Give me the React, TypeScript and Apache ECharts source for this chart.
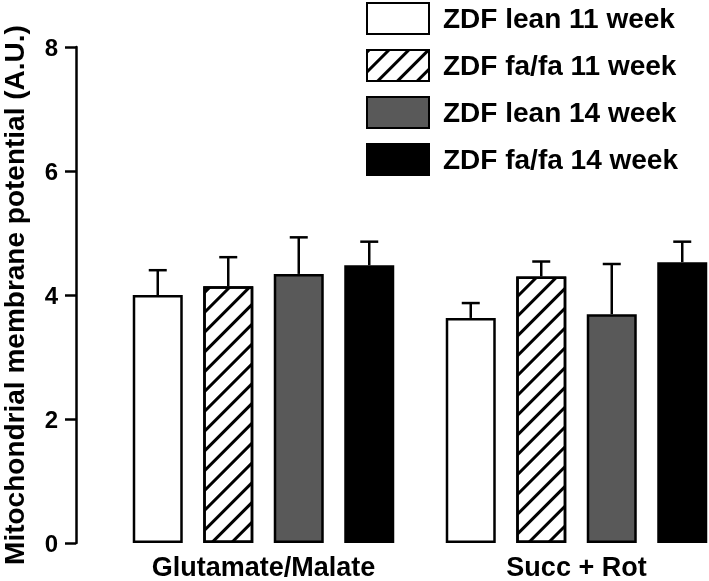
import React, { useEffect, useRef } from 'react';
import * as echarts from 'echarts';

const categories = ['Glutamate/Malate', 'Succ + Rot'];
const seriesNames = ['ZDF lean 11 week', 'ZDF fa/fa 11 week', 'ZDF lean 14 week', 'ZDF fa/fa 14 week'];
const leanW11 = [4.0, 3.63];
const fafaW11 = [4.14, 4.3];
const leanW14 = [4.34, 3.69];
const fafaW14 = [4.48, 4.53];
const leanW11Err = [0.4, 0.24];
const fafaW11Err = [0.47, 0.24];
const leanW14Err = [0.59, 0.81];
const fafaW14Err = [0.38, 0.33];
const yTicks = [0, 2, 4, 6, 8];

const FONT = "'Liberation Sans', Arial, Helvetica, sans-serif";
const BAR_W = 50;
const GAP_PCT = 0.41;

export default function App() {
  const ref = useRef<HTMLDivElement>(null);
  useEffect(() => {
    if (!ref.current) return;
    const chart = echarts.init(ref.current, undefined, { renderer: 'svg' });
    const means = [leanW11, fafaW11, leanW14, fafaW14];
    const errs = [leanW11Err, fafaW11Err, leanW14Err, fafaW14Err];
    const errData: number[][] = [];
    means.forEach((arr, s) => arr.forEach((v, c) => errData.push([c, s, v, errs[s][c]])));
    const border = { borderColor: '#000', borderWidth: 2.5 };
    const styles: any[] = [
      { color: '#ffffff', ...border },
      {
        color: '#ffffff',
        ...border,
        decal: {
          symbol: 'rect',
          symbolSize: 1,
          color: '#000000',
          dashArrayX: [1, 0],
          dashArrayY: [3, 11],
          rotation: -Math.PI / 4,
        },
      },
      { color: '#595959', ...border },
      { color: '#000000', ...border },
    ];
    const barSeries = means.map((arr, s) => ({
      name: seriesNames[s],
      type: 'bar',
      data: arr,
      barWidth: BAR_W,
      barGap: GAP_PCT * 100 + '%',
      itemStyle: styles[s],
      emphasis: { disabled: true },
    }));
    chart.setOption({
      animation: false,
      grid: { left: 107, width: 626, top: 47, height: 496, containLabel: false, outerBoundsMode: 'none' },
      legend: {
        orient: 'vertical',
        left: 366,
        top: 2,
        padding: 0,
        icon: 'rect',
        itemWidth: 62,
        itemHeight: 31,
        itemGap: 14,
        data: seriesNames,
        selectedMode: false,
        textStyle: { fontFamily: FONT, fontWeight: 'bold', fontSize: 28, lineHeight: 31, color: '#000', padding: [0, 0, 0, 9] },
      },
      xAxis: {
        type: 'category',
        data: categories,
        axisLine: { show: false },
        axisTick: { show: false },
        axisLabel: { fontFamily: FONT, fontWeight: 'bold', fontSize: 27, lineHeight: 27, color: '#000', margin: 10 },
      },
      yAxis: {
        type: 'value',
        min: yTicks[0],
        max: yTicks[yTicks.length - 1],
        interval: 2,
        offset: 31,
        splitLine: { show: false },
        axisLine: { show: true, lineStyle: { color: '#000', width: 2.5 } },
        axisTick: { show: true, length: 11, lineStyle: { color: '#000', width: 2.5 } },
        axisLabel: { fontFamily: FONT, fontWeight: 'bold', fontSize: 24, color: '#000', margin: 18 },
        name: 'Mitochondrial membrane potential (A.U.)',
        nameLocation: 'middle',
        nameRotate: 90,
        nameGap: 48,
        nameTextStyle: { fontFamily: FONT, fontWeight: 'bold', fontSize: 28, lineHeight: 28, color: '#000' },
      },
      series: [
        ...barSeries,
        {
          type: 'custom',
          z: 5,
          data: errData,
          encode: { x: 0, y: 2 },
          renderItem: (params: any, api: any) => {
            const c = api.value(0);
            const s = api.value(1);
            const m = api.value(2);
            const e = api.value(3);
            const base = api.coord([c, m]);
            const top = api.coord([c, m + e]);
            const x = base[0] + (s - 1.5) * (BAR_W * (1 + GAP_PCT));
            return {
              type: 'group',
              children: [
                { type: 'line', shape: { x1: x, y1: base[1], x2: x, y2: top[1] }, style: { stroke: '#000', lineWidth: 2.5 } },
                { type: 'line', shape: { x1: x - 9, y1: top[1], x2: x + 9, y2: top[1] }, style: { stroke: '#000', lineWidth: 2.5 } },
              ],
            };
          },
        },
      ],
    });
    return () => chart.dispose();
  }, []);
  return <div ref={ref} style={{ position: 'fixed', left: 0, top: 0, width: 709, height: 581 }} />;
}
